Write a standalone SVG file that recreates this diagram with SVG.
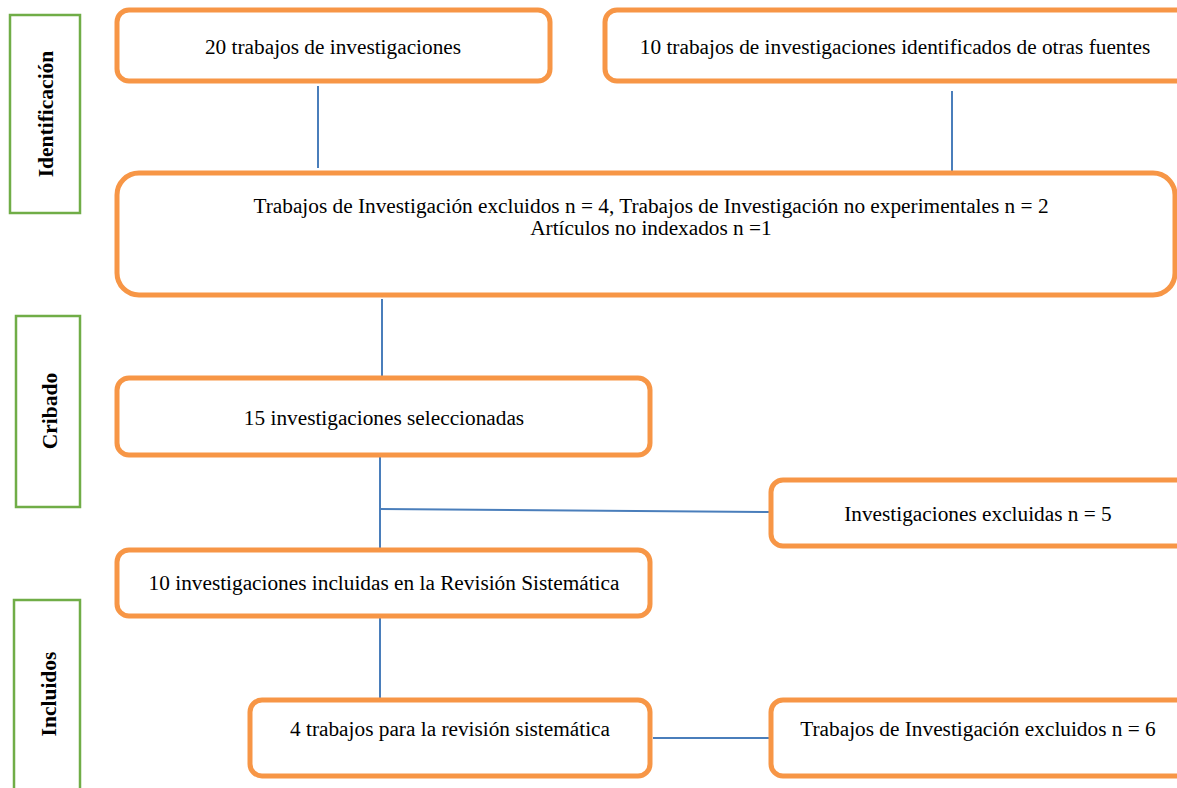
<svg xmlns="http://www.w3.org/2000/svg" width="1177" height="788" viewBox="0 0 1177 788">
<style>
.box{fill:#fff;stroke:#F79646;stroke-width:5}
.phase{fill:#fff;stroke:#70AD47;stroke-width:2.5}
.t{font-family:"Liberation Serif","Times New Roman",serif;font-size:21.3px;fill:#000;text-anchor:middle}
.pt{font-family:"Liberation Serif","Times New Roman",serif;font-size:21.5px;font-weight:bold;fill:#000;text-anchor:middle}
.c{stroke:#4A7EBB;stroke-width:2;fill:none}
</style>
<rect width="1177" height="788" fill="#fff"/>
<g id="phase-identificacion">
<rect class="phase" x="10" y="15" width="70" height="198"/>
<text class="pt" transform="translate(53,114) rotate(-90)">Identificación</text>
</g>
<g id="phase-cribado">
<rect class="phase" x="16" y="316" width="64" height="191"/>
<text class="pt" transform="translate(57,411) rotate(-90)">Cribado</text>
</g>
<g id="phase-incluidos">
<rect class="phase" x="14" y="600" width="66" height="200"/>
<text class="pt" transform="translate(56,694) rotate(-90)">Incluidos</text>
</g>
<g id="connectors">
<line class="c" x1="318" y1="86" x2="318" y2="168"/>
<line class="c" x1="952" y1="91" x2="952" y2="172"/>
<line class="c" x1="382" y1="299" x2="382" y2="376"/>
<line class="c" x1="380" y1="452" x2="380" y2="550"/>
<line class="c" x1="380" y1="509" x2="771" y2="512"/>
<line class="c" x1="380" y1="618" x2="380" y2="698"/>
<line class="c" x1="653" y1="738" x2="770" y2="738"/>
</g>
<g id="n1">
<rect class="box" x="117" y="10" width="433" height="71" rx="12"/>
<text class="t" x="333" y="54">20 trabajos de investigaciones</text>
</g>
<g id="n2">
<rect class="box" x="605" y="10" width="585" height="71" rx="12"/>
<text class="t" x="895" y="54">10 trabajos de investigaciones identificados de otras fuentes</text>
</g>
<g id="n3">
<rect class="box" x="117" y="173" width="1058" height="122" rx="22"/>
<text class="t" x="651" y="213">Trabajos de Investigación excluidos n = 4, Trabajos de Investigación no experimentales n = 2</text>
<text class="t" x="651" y="235">Artículos no indexados n =1</text>
</g>
<g id="n4">
<rect class="box" x="117" y="378" width="533" height="77" rx="12"/>
<text class="t" x="384" y="425">15 investigaciones seleccionadas</text>
</g>
<g id="n5">
<rect class="box" x="771" y="480" width="420" height="66" rx="12"/>
<text class="t" x="978" y="521">Investigaciones excluidas n = 5</text>
</g>
<g id="n6">
<rect class="box" x="117" y="550" width="533" height="66" rx="12"/>
<text class="t" x="384" y="590">10 investigaciones incluidas en la Revisión Sistemática</text>
</g>
<g id="n7">
<rect class="box" x="250" y="700" width="400" height="76" rx="12"/>
<text class="t" x="450" y="736">4 trabajos para la revisión sistemática</text>
</g>
<g id="n8">
<rect class="box" x="771" y="700" width="420" height="76" rx="12"/>
<text class="t" x="978" y="736">Trabajos de Investigación excluidos n = 6</text>
</g>
</svg>
